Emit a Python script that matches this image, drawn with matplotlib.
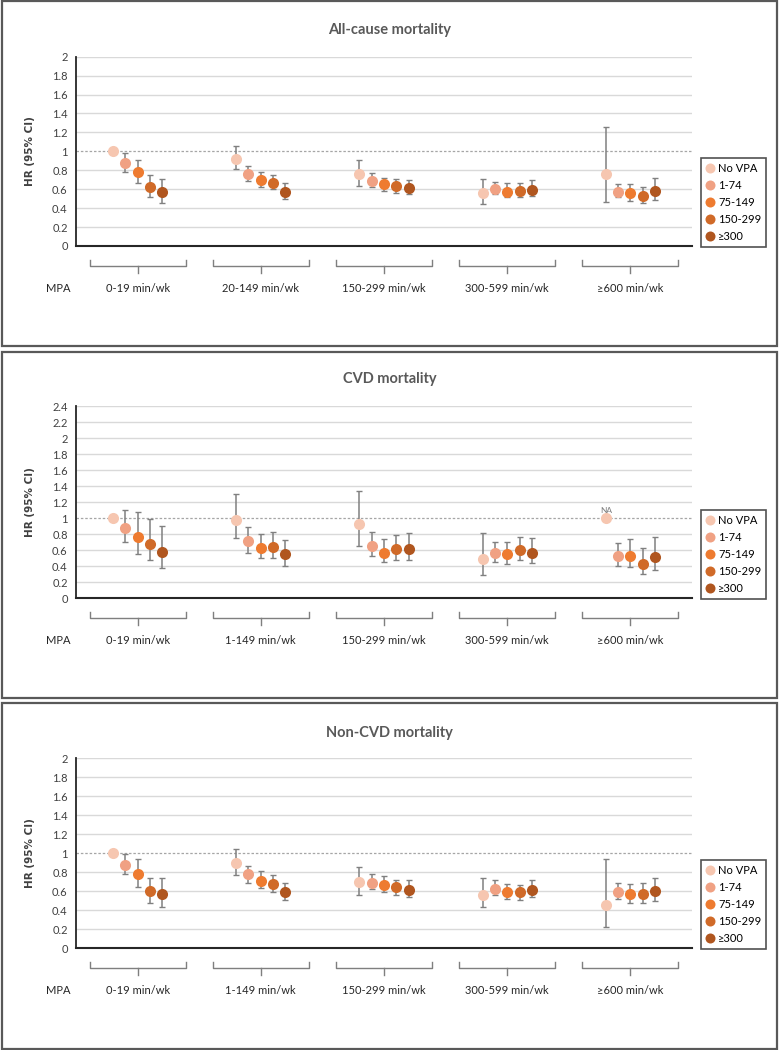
import numpy as np
import matplotlib.pyplot as plt
from matplotlib.patches import Rectangle

nan = np.nan

# VPA categories (legend) and colours
vpa_labels = ["No VPA", "1-74", "75-149", "150-299", "≥300"]
colors = ["#F6C6B0", "#F0A183", "#EE7B30", "#D06A28", "#B0561F"]

# MPA groups
mpa_all = ["0-19 min/wk", "20-149 min/wk", "150-299 min/wk", "300-599 min/wk", "≥600 min/wk"]
mpa_other = ["0-19 min/wk", "1-149 min/wk", "150-299 min/wk", "300-599 min/wk", "≥600 min/wk"]

# All-cause mortality: rows = MPA group, cols = VPA category
all_hr = [[1.00, 0.88, 0.78, 0.62, 0.57],
          [0.92, 0.76, 0.70, 0.665, 0.575],
          [0.76, 0.69, 0.65, 0.63, 0.615],
          [0.555, 0.605, 0.575, 0.585, 0.595],
          [0.76, 0.575, 0.56, 0.53, 0.585]]
all_lo = [[nan, 0.785, 0.665, 0.52, 0.455],
          [0.81, 0.69, 0.62, 0.60, 0.50],
          [0.635, 0.625, 0.58, 0.565, 0.545],
          [0.445, 0.55, 0.52, 0.52, 0.53],
          [0.465, 0.515, 0.48, 0.455, 0.49]]
all_hi = [[nan, 0.98, 0.91, 0.745, 0.71],
          [1.055, 0.85, 0.78, 0.755, 0.665],
          [0.91, 0.77, 0.72, 0.71, 0.70],
          [0.705, 0.68, 0.665, 0.665, 0.695],
          [1.26, 0.65, 0.65, 0.62, 0.715]]

# CVD mortality
cvd_hr = [[1.00, 0.875, 0.77, 0.68, 0.585],
          [0.98, 0.715, 0.625, 0.645, 0.55],
          [0.93, 0.655, 0.57, 0.615, 0.615],
          [0.49, 0.565, 0.55, 0.60, 0.57],
          [1.00, 0.535, 0.535, 0.435, 0.52]]
cvd_lo = [[nan, 0.70, 0.56, 0.48, 0.385],
          [0.75, 0.57, 0.505, 0.51, 0.41],
          [0.66, 0.53, 0.46, 0.48, 0.475],
          [0.295, 0.45, 0.43, 0.475, 0.44],
          [nan, 0.41, 0.395, 0.31, 0.36]]
cvd_hi = [[nan, 1.10, 1.075, 0.99, 0.91],
          [1.30, 0.895, 0.80, 0.825, 0.725],
          [1.34, 0.825, 0.74, 0.79, 0.815],
          [0.82, 0.71, 0.70, 0.77, 0.75],
          [nan, 0.69, 0.74, 0.625, 0.77]]

# Non-CVD mortality
ncvd_hr = [[1.00, 0.88, 0.78, 0.60, 0.57],
           [0.90, 0.78, 0.71, 0.68, 0.595],
           [0.70, 0.69, 0.67, 0.64, 0.615],
           [0.565, 0.625, 0.595, 0.59, 0.615],
           [0.46, 0.595, 0.57, 0.57, 0.605]]
ncvd_lo = [[nan, 0.78, 0.65, 0.48, 0.44],
           [0.77, 0.69, 0.63, 0.595, 0.51],
           [0.565, 0.62, 0.595, 0.565, 0.545],
           [0.44, 0.56, 0.52, 0.505, 0.535],
           [0.225, 0.52, 0.475, 0.475, 0.50]]
ncvd_hi = [[nan, 0.99, 0.935, 0.74, 0.74],
           [1.04, 0.87, 0.815, 0.77, 0.69],
           [0.86, 0.78, 0.76, 0.72, 0.72],
           [0.735, 0.72, 0.675, 0.665, 0.72],
           [0.94, 0.69, 0.675, 0.69, 0.745]]

plt.rcParams["font.family"] = ["Lato", "DejaVu Sans"]

W, H = 779, 1050
fig = plt.figure(figsize=(W / 100, H / 100), dpi=100)

# panel layout in pixels: box top/bottom, axes top/bottom, ymax, title y
panels = [
    ("All-cause mortality", all_hr, all_lo, all_hi, mpa_all, 2.0, (1, 346), (56.7, 246), 30),
    ("CVD mortality", cvd_hr, cvd_lo, cvd_hi, mpa_other, 2.4, (352, 698), (406.3, 598.3), 379),
    ("Non-CVD mortality", ncvd_hr, ncvd_lo, ncvd_hi, mpa_other, 2.0, (703, 1049), (758.3, 948.3), 733),
]

ax_left, ax_right = 76, 692
offsets = np.array([-0.2, -0.1, 0.0, 0.1, 0.2])

for p, (title, hr, lo, hi, groups, ymax, box, axy, ty) in enumerate(panels):
    # panel border
    fig.patches.append(Rectangle((2 / W, 1 - box[1] / H), (W - 4) / W, (box[1] - box[0]) / H,
                                 transform=fig.transFigure, fill=False,
                                 edgecolor="#595959", lw=1.6))
    fig.text(0.5, 1 - ty / H, title, ha="center", va="center",
             fontsize=10.5, fontweight="bold", color="#595959")

    ax_h = axy[1] - axy[0]
    ax = fig.add_axes([ax_left / W, 1 - axy[1] / H, (ax_right - ax_left) / W, ax_h / H])
    ax.set_xlim(0, 5)
    ax.set_ylim(0, ymax)
    ticks = np.round(np.arange(0, ymax + 0.01, 0.2), 1)
    ax.set_yticks(ticks)
    ax.set_yticklabels([f"{t:g}" for t in ticks])
    for t in ticks[1:]:
        if abs(t - 1) > 1e-6:
            ax.axhline(t, color="#D9D9D9", lw=1, zorder=0)
    ax.axhline(1, color="#A6A6A6", lw=0.9, ls=(0, (2, 1.5)), zorder=1)
    ax.set_xticks([])
    ax.tick_params(axis="y", length=0, pad=6, labelsize=8, labelcolor="#404040")
    for s in ["top", "right"]:
        ax.spines[s].set_visible(False)
    ax.spines["left"].set_color("#262626")
    ax.spines["bottom"].set_color("#262626")
    ax.spines["left"].set_linewidth(1.3)
    ax.spines["bottom"].set_linewidth(1.5)
    ax.set_ylabel("HR (95% CI)", fontsize=7.5, fontweight="bold", color="#404040",
                  family="DejaVu Sans", labelpad=12)

    hr = np.array(hr)
    lo = np.array(lo)
    hi = np.array(hi)
    for c in range(5):
        xs = np.arange(5) + 0.5 + offsets[c]
        ys = hr[:, c]
        m = np.isfinite(lo[:, c])
        ax.errorbar(xs[m], ys[m], yerr=[ys[m] - lo[m, c], hi[m, c] - ys[m]],
                    fmt="none", ecolor="#808080", elinewidth=1.1, capsize=2.5,
                    capthick=1, zorder=2)
        ax.plot(xs, ys, "o", color=colors[c], markersize=8, markeredgewidth=0,
                label=vpa_labels[c], zorder=3)

    if p == 1:
        ax.text(4.5 - 0.2, 1.0 + 0.1, "NA", ha="center", va="center",
                fontsize=6, color="#808080")

    # group brackets below the axis
    trans = ax.get_xaxis_transform()
    f = lambda px: -px / ax_h
    for g in range(5):
        xc = g + 0.5
        x0, x1 = xc - 0.39, xc + 0.39
        ax.plot([x0, x0, x1, x1], [f(14), f(20), f(20), f(14)], color="#7F7F7F",
                lw=1, transform=trans, clip_on=False)
        ax.plot([xc, xc], [f(20), f(27)], color="#7F7F7F", lw=1,
                transform=trans, clip_on=False)
        ax.text(xc, f(42), groups[g], transform=trans, ha="center", va="center",
                fontsize=8, color="#262626")
    fig.text(58 / W, 1 - (axy[1] + 42) / H, "MPA", ha="center", va="center",
             fontsize=8, color="#262626")

    leg = ax.legend(loc="lower left", bbox_to_anchor=(701 / W, 1 - (axy[1] + 1) / H),
                    bbox_transform=fig.transFigure, borderaxespad=0, fontsize=8,
                    frameon=True, fancybox=False, handlelength=0.8, handletextpad=0.3,
                    labelspacing=0.55, borderpad=0.45, markerscale=0.9)
    leg.get_frame().set_edgecolor("#262626")
    leg.get_frame().set_linewidth(1.2)

fig.savefig("out.png", dpi=100)
